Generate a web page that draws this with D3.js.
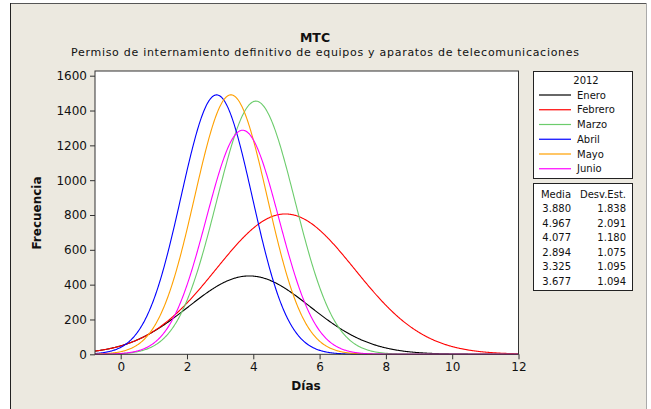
<!DOCTYPE html>
<html><head><meta charset="utf-8">
<script src="https://cdn.jsdelivr.net/npm/d3@7"></script>
<style>body{margin:0;background:#fff;}svg{display:block;font-family:"DejaVu Sans",sans-serif;}</style>
</head><body>
<script>
const months = ["Enero","Febrero","Marzo","Abril","Mayo","Junio"];
const means = [3.880, 4.967, 4.077, 2.894, 3.325, 3.677];
const stdevs = [1.838, 2.091, 1.180, 1.075, 1.095, 1.094];
const peaks = [450, 806, 1454, 1490, 1490, 1287];
const colors = ["#000000","#ff0000","#6ccc6c","#0000ff","#ffa000","#ff00ff"];
const xTicks = [0,2,4,6,8,10,12];
const yTicks = [0,200,400,600,800,1000,1200,1400,1600];
const meanLabels = ["3.880","4.967","4.077","2.894","3.325","3.677"];
const sdLabels = ["1.838","2.091","1.180","1.075","1.095","1.094"];

const W=651,H=409;
const svg=d3.select("body").append("svg").attr("width",W).attr("height",H);
svg.append("rect").attr("x",10).attr("y",3).attr("width",636).attr("height",H).attr("fill","#ece9e0");
svg.append("line").attr("x1",10).attr("x2",646).attr("y1",3.5).attr("y2",3.5).attr("stroke","#555");
svg.append("line").attr("x1",10.5).attr("x2",10.5).attr("y1",3).attr("y2",H).attr("stroke","#222");
svg.append("line").attr("x1",646.5).attr("x2",646.5).attr("y1",3).attr("y2",H).attr("stroke","#aaa");

const x=d3.scaleLinear().domain([-0.775,12]).range([95,518.5]);
const y=d3.scaleLinear().domain([0,1627]).range([354.3,71]);

svg.append("rect").attr("x",95).attr("y",71).attr("width",423.5).attr("height",283.3).attr("fill","#fff");
svg.append("clipPath").attr("id","clip").append("rect").attr("x",95).attr("y",70).attr("width",424).attr("height",285);

const xs=d3.range(-0.775,12.0001,0.02);
const line=d3.line().x(d=>x(d[0])).y(d=>y(d[1]));
const g=svg.append("g").attr("clip-path","url(#clip)");
months.forEach((m,i)=>{
  const pts=xs.map(v=>[v,peaks[i]*Math.exp(-0.5*Math.pow((v-means[i])/stdevs[i],2))]);
  g.append("path").datum(pts).attr("d",line).attr("fill","none").attr("stroke",colors[i]).attr("stroke-width",1.1);
});

svg.append("rect").attr("x",95).attr("y",71).attr("width",423.5).attr("height",283.3).attr("fill","none").attr("stroke","#333").attr("stroke-width",1);

const xa=svg.append("g").attr("transform","translate(0,354.3)").call(d3.axisBottom(x).tickValues(xTicks).tickSize(5).tickPadding(3).tickFormat(d3.format("d")));
const ya=svg.append("g").attr("transform","translate(95,0)").call(d3.axisLeft(y).tickValues(yTicks).tickSize(5).tickPadding(3).tickFormat(d3.format("d")));
[xa,ya].forEach(a=>{a.select(".domain").remove();a.selectAll("line").attr("stroke","#333");a.selectAll("text").attr("font-family","DejaVu Sans").attr("font-size",12).attr("fill","#111");});

svg.append("text").attr("x",315).attr("y",42).attr("text-anchor","middle").attr("font-weight","bold").attr("font-size",12.5).attr("fill","#111").text("MTC");
svg.append("text").attr("x",325).attr("y",55.5).attr("text-anchor","middle").attr("font-size",11)
  .attr("textLength",508).attr("lengthAdjust","spacing").attr("fill","#111").text("Permiso de internamiento definitivo de equipos y aparatos de telecomunicaciones");
svg.append("text").attr("x",306).attr("y",390).attr("text-anchor","middle").attr("font-weight","bold").attr("font-size",12).attr("fill","#111").text("Días");
svg.append("text").attr("transform","translate(41,213) rotate(-90)").attr("text-anchor","middle").attr("font-weight","bold").attr("font-size",12).attr("fill","#111").text("Frecuencia");

svg.append("rect").attr("x",533.5).attr("y",71.5).attr("width",99).attr("height",107).attr("fill","#fff").attr("stroke","#222");
svg.append("text").attr("x",586).attr("y",84).attr("text-anchor","middle").attr("font-size",10).attr("fill","#111").text("2012");
months.forEach((m,i)=>{
  const yy=95+i*14.75;
  svg.append("line").attr("x1",539).attr("x2",571).attr("y1",yy).attr("y2",yy).attr("stroke",colors[i]).attr("stroke-width",1.2);
  svg.append("text").attr("x",577).attr("y",yy+3.5).attr("font-size",10).attr("fill","#111").text(m);
});
svg.append("rect").attr("x",533.5).attr("y",183.5).attr("width",99).attr("height",107).attr("fill","#fff").attr("stroke","#222");
svg.append("text").attr("x",556).attr("y",197.5).attr("text-anchor","middle").attr("font-size",10).attr("fill","#111").text("Media");
svg.append("text").attr("x",626).attr("y",197.5).attr("text-anchor","end").attr("font-size",10).attr("fill","#111").text("Desv.Est.");
meanLabels.forEach((m,i)=>{
  const yy=212+i*14.5;
  svg.append("text").attr("x",571).attr("y",yy).attr("text-anchor","end").attr("font-size",10).attr("fill","#111").text(m);
  svg.append("text").attr("x",626).attr("y",yy).attr("text-anchor","end").attr("font-size",10).attr("fill","#111").text(sdLabels[i]);
});
</script>
</body></html>
